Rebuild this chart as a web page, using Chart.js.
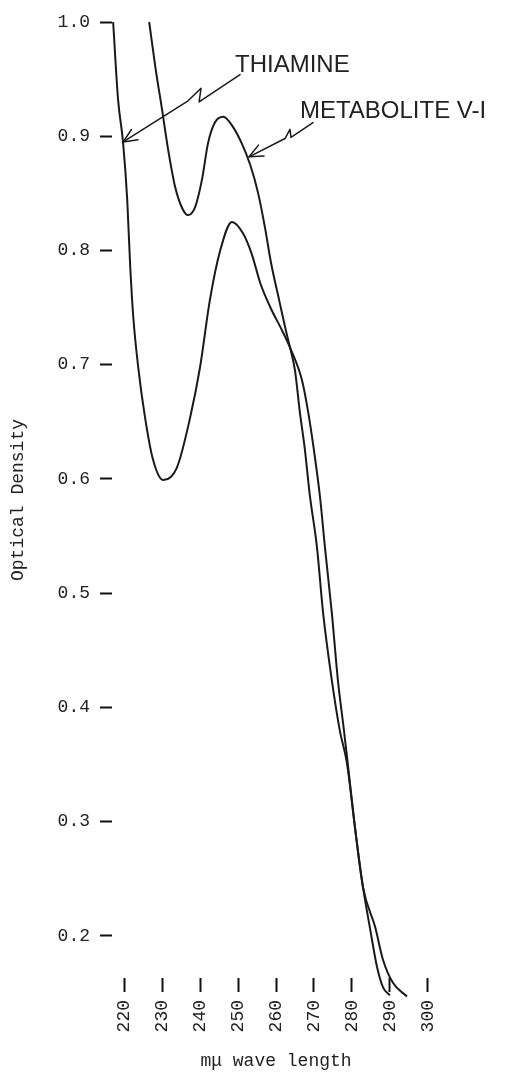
<!DOCTYPE html>
<html><head><meta charset="utf-8">
<script src="https://cdn.jsdelivr.net/npm/chart.js@4.4.1/dist/chart.umd.min.js"></script>
<style>html,body{margin:0;padding:0;background:#fff}#wrap{width:508px;height:1072px;position:relative}</style>
</head><body><div id="wrap"><canvas id="c"></canvas></div>
<script>
const xTicks = [220, 230, 240, 250, 260, 270, 280, 290, 300];
const yTicks = [0.2, 0.3, 0.4, 0.5, 0.6, 0.7, 0.8, 0.9, 1.0];

const thiamineWave = [217.1, 218.4, 219.7, 220.8, 221.6, 222.4, 223.7, 225.5, 227.6, 230.3, 233.9, 237.4, 240.0, 242.6, 245.3, 248.4, 251.3, 253.7, 255.8, 258.4, 261.6, 263.7, 266.8, 268.4, 270.0, 271.6, 272.9, 274.7, 276.3, 277.9, 278.9, 280.8, 282.9, 286.1, 288.2, 290.8, 294.5];
const thiamineOD   = [1.000, 0.932, 0.895, 0.845, 0.786, 0.742, 0.698, 0.654, 0.617, 0.599, 0.610, 0.654, 0.698, 0.757, 0.800, 0.825, 0.815, 0.796, 0.772, 0.751, 0.730, 0.715, 0.687, 0.660, 0.625, 0.584, 0.540, 0.483, 0.424, 0.380, 0.351, 0.295, 0.243, 0.208, 0.179, 0.159, 0.147];

const metaboliteWave = [226.6, 228.2, 230.0, 231.6, 233.4, 235.3, 236.8, 238.7, 240.5, 242.1, 243.9, 246.1, 248.7, 250.8, 253.2, 255.3, 257.1, 258.7, 260.8, 262.6, 263.7, 265.0, 266.3, 267.6, 268.9, 270.8, 272.4, 274.7, 276.8, 278.7, 280.8, 282.9, 284.7, 286.6, 288.2, 290.0];
const metaboliteOD   = [1.000, 0.961, 0.923, 0.888, 0.856, 0.837, 0.831, 0.838, 0.862, 0.894, 0.912, 0.917, 0.908, 0.895, 0.875, 0.850, 0.820, 0.789, 0.757, 0.730, 0.715, 0.695, 0.658, 0.626, 0.586, 0.540, 0.483, 0.424, 0.380, 0.351, 0.295, 0.243, 0.208, 0.173, 0.155, 0.148];

// annotation leader lines (data units), first point = arrow tip
const thiamineLabel = 'THIAMINE';
const thiamineLabelAt = [249.2, 0.956];
const thiamineArrowWave = [219.74, 236.84, 240.26, 239.74, 250.53];
const thiamineArrowOD   = [0.895, 0.931, 0.942, 0.930, 0.954];

const metaboliteLabel = 'METABOLITE V-I';
const metaboliteLabelAt = [266.3, 0.916];
const metaboliteArrowWave = [252.9, 262.37, 263.68, 263.95, 269.74];
const metaboliteArrowOD   = [0.882, 0.898, 0.906, 0.899, 0.912];

const ink = '#1a1a1a';
const mono = 'Liberation Mono';

const toXY = (xs, ys) => xs.map((x, i) => ({x: x, y: ys[i]}));

const annotations = {
  id: 'annotations',
  afterDatasetsDraw(chart) {
    const ctx = chart.ctx, sx = chart.scales.x, sy = chart.scales.y;
    const items = [
      [thiamineLabel, thiamineLabelAt, thiamineArrowWave, thiamineArrowOD],
      [metaboliteLabel, metaboliteLabelAt, metaboliteArrowWave, metaboliteArrowOD]
    ];
    ctx.save();
    ctx.strokeStyle = ink; ctx.fillStyle = '#222';
    ctx.lineWidth = 1.5; ctx.lineJoin = 'round'; ctx.lineCap = 'round';
    items.forEach(([txt, at, ws, ods]) => {
      const pts = ws.map((w, i) => [sx.getPixelForValue(w), sy.getPixelForValue(ods[i])]);
      ctx.beginPath();
      pts.forEach((p, i) => i ? ctx.lineTo(p[0], p[1]) : ctx.moveTo(p[0], p[1]));
      ctx.stroke();
      const [tx, ty] = pts[0], [bx, by] = pts[1];
      const a = Math.atan2(by - ty, bx - tx), L = 15, h = 0.42;
      ctx.beginPath();
      ctx.moveTo(tx + L * Math.cos(a - h), ty + L * Math.sin(a - h));
      ctx.lineTo(tx, ty);
      ctx.lineTo(tx + L * Math.cos(a + h), ty + L * Math.sin(a + h));
      ctx.stroke();
      ctx.font = '24px "Liberation Sans", Arial, sans-serif';
      ctx.textAlign = 'left'; ctx.textBaseline = 'alphabetic';
      ctx.fillText(txt, sx.getPixelForValue(at[0]), sy.getPixelForValue(at[1]));
    });
    ctx.restore();
  }
};

const lineStyle = {borderColor: ink, backgroundColor: ink, borderWidth: 2, pointRadius: 0, fill: false, cubicInterpolationMode: 'monotone', clip: false};

new Chart(document.getElementById('c'), {
  type: 'line',
  data: {
    datasets: [
      Object.assign({label: 'Thiamine', data: toXY(thiamineWave, thiamineOD)}, lineStyle),
      Object.assign({label: 'Metabolite V-I', data: toXY(metaboliteWave, metaboliteOD)}, lineStyle)
    ]
  },
  options: {
    responsive: true, maintainAspectRatio: false, animation: false, devicePixelRatio: 1,
    layout: {padding: {top: 22, right: 68, bottom: 0, left: 0}},
    plugins: {legend: {display: false}, tooltip: {enabled: false}, colors: {enabled: false}},
    scales: {
      x: {
        type: 'linear', min: 216.8, max: 303.2,
        afterBuildTicks: s => { s.ticks = xTicks.map(v => ({value: v})); },
        afterFit: s => { s.height = 94; },
        border: {display: false},
        grid: {drawOnChartArea: false, drawTicks: true, tickLength: 14, tickWidth: 2, tickColor: '#111'},
        ticks: {minRotation: 90, maxRotation: 90, padding: 8, color: '#222', font: {family: mono, size: 18}, callback: v => String(v)},
        title: {display: true, text: 'mμ wave length', color: '#222', font: {family: mono, size: 18}, padding: {top: 0, bottom: 0}}
      },
      y: {
        min: 0.1632, max: 1.0,
        afterBuildTicks: s => { s.ticks = yTicks.map(v => ({value: v})); },
        afterFit: s => { s.width = 112; },
        border: {display: false},
        grid: {drawOnChartArea: false, drawTicks: true, tickLength: 12, tickWidth: 2, tickColor: '#111'},
        ticks: {padding: 10, color: '#222', font: {family: mono, size: 18}, callback: v => v.toFixed(1)},
        title: {display: true, text: 'Optical Density', color: '#222', font: {family: mono, size: 18}, padding: {top: 7, bottom: 0}}
      }
    }
  },
  plugins: [annotations]
});
</script>
</body></html>
